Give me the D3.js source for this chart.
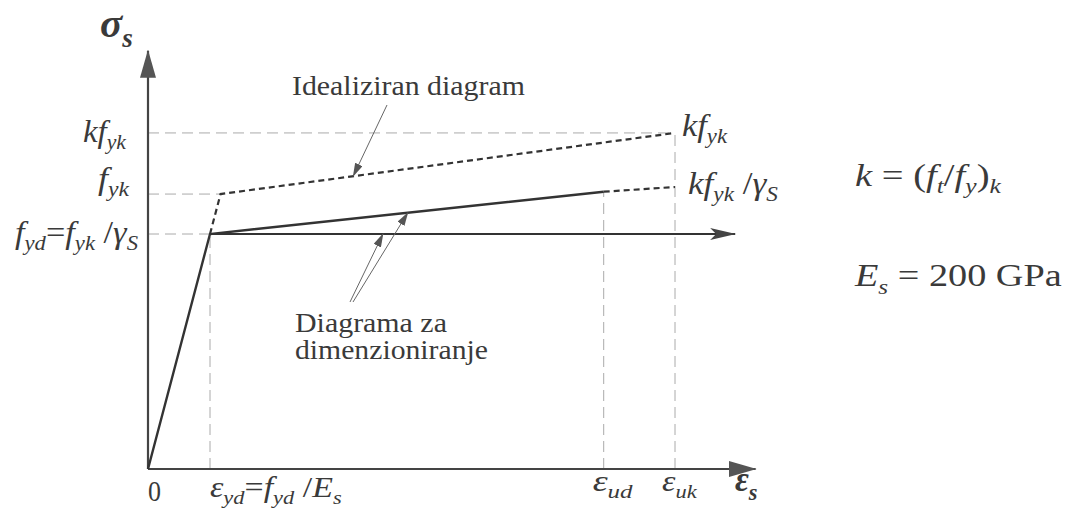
<!DOCTYPE html>
<html>
<head>
<meta charset="utf-8">
<script src="https://cdn.jsdelivr.net/npm/d3@7"></script>
</head>
<body style="margin:0">
<svg id="chart" width="1068" height="510"></svg>
<script>
// strain in units of eps_yd, stress in units of f_yd
const strainNames = ["yd", "yIdeal", "ud", "uk"];
const strainValues = [1.0, 1.17, 7.35, 8.5];
const stressNames = ["fyd", "fyk", "kfyk", "fudDesign", "kfykGs"];
const stressValues = [1.0, 1.17, 1.43, 1.18, 1.2];

const eps = Object.fromEntries(strainNames.map((n, i) => [n, strainValues[i]]));
const sig = Object.fromEntries(stressNames.map((n, i) => [n, stressValues[i]]));

// design diagram (solid part + dashed continuation), idealized diagram (dashed)
const designSolid = [[0, 0], [eps.yd, sig.fyd], [eps.ud, sig.fudDesign]];
const designDashed = [[eps.ud, sig.fudDesign], [eps.uk, sig.kfykGs]];
const idealized = [[eps.yd, sig.fyd], [eps.yIdeal, sig.fyk], [eps.uk, sig.kfyk]];
const plateau = [[eps.yd, sig.fyd], [9.47, sig.fyd]];

const svg = d3.select("#chart");
const x = d3.scaleLinear().domain([0, 9.8]).range([148, 755.6]);
const y = d3.scaleLinear().domain([0, 1]).range([469, 234]);
const yTop = 1.78;
const ink = "#3a3a3a";
const FONT = "'Liberation Serif'";

const line = d3.line().x(d => x(d[0])).y(d => y(d[1]));

const defs = svg.append("defs");
defs.append("marker").attr("id", "axisHead")
  .attr("viewBox", "0 0 28 16").attr("refX", 27).attr("refY", 8)
  .attr("markerWidth", 28).attr("markerHeight", 16).attr("markerUnits", "userSpaceOnUse")
  .attr("orient", "auto")
  .append("path").attr("d", "M0,0 L28,8 L0,16 Z").attr("fill", "#555");
defs.append("marker").attr("id", "plateauHead")
  .attr("viewBox", "0 0 26 12").attr("refX", 25).attr("refY", 6)
  .attr("markerWidth", 26).attr("markerHeight", 12).attr("markerUnits", "userSpaceOnUse")
  .attr("orient", "auto")
  .append("path").attr("d", "M0,0 L26,6 L0,12 L6,6 Z").attr("fill", "#444");
defs.append("marker").attr("id", "noteHead")
  .attr("viewBox", "0 0 14 8").attr("refX", 13).attr("refY", 4)
  .attr("markerWidth", 14).attr("markerHeight", 8).attr("markerUnits", "userSpaceOnUse")
  .attr("orient", "auto")
  .append("path").attr("d", "M0,0 L14,4 L0,8 Z").attr("fill", "#555");

// light dashed guide lines
const guides = svg.append("g").attr("stroke", "#aaa").attr("stroke-width", 1)
  .attr("stroke-dasharray", "11,6").attr("fill", "none");
guides.append("path").attr("d", line([[0, sig.kfyk], [eps.uk, sig.kfyk]]));
guides.append("path").attr("d", line([[0, sig.fyk], [eps.yIdeal, sig.fyk]]));
guides.append("path").attr("d", line([[0, sig.fyd], [eps.yd, sig.fyd]]));
guides.append("path").attr("d", line([[eps.yd, 0], [eps.yd, sig.fyd]]));
guides.append("path").attr("d", line([[eps.ud, 0], [eps.ud, sig.fudDesign]]));
guides.append("path").attr("d", line([[eps.uk, 0], [eps.uk, sig.kfyk]]));

// axes
svg.append("line")
  .attr("x1", x(0)).attr("y1", y(0)).attr("x2", x(0)).attr("y2", y(yTop))
  .attr("stroke", "#444").attr("stroke-width", 2.2).attr("marker-end", "url(#axisHead)");
svg.append("line")
  .attr("x1", x(0)).attr("y1", y(0)).attr("x2", x(9.8)).attr("y2", y(0))
  .attr("stroke", "#444").attr("stroke-width", 2.2).attr("marker-end", "url(#axisHead)");

// idealized diagram
svg.append("path").attr("d", line(idealized))
  .attr("fill", "none").attr("stroke", "#333").attr("stroke-width", 2.2)
  .attr("stroke-dasharray", "6,4");

// design diagram
svg.append("path").attr("d", line(designSolid))
  .attr("fill", "none").attr("stroke", "#333").attr("stroke-width", 2.4)
  .attr("stroke-linejoin", "miter");
svg.append("path").attr("d", line(designDashed))
  .attr("fill", "none").attr("stroke", "#333").attr("stroke-width", 2.2)
  .attr("stroke-dasharray", "6,4");
svg.append("path").attr("d", line(plateau))
  .attr("fill", "none").attr("stroke", "#333").attr("stroke-width", 2.2)
  .attr("marker-end", "url(#plateauHead)");

// point on a polyline at strain e
function onLine(pts, e) {
  for (let i = 1; i < pts.length; i++) {
    if (e <= pts[i][0]) {
      const t = (e - pts[i - 1][0]) / (pts[i][0] - pts[i - 1][0]);
      return [x(e), y(pts[i - 1][1] + t * (pts[i][1] - pts[i - 1][1]))];
    }
  }
}

// annotation arrows
const notes = svg.append("g").attr("stroke", "#666").attr("stroke-width", 1)
  .attr("marker-end", "url(#noteHead)");
function note(from, to) {
  notes.append("line").attr("x1", from[0]).attr("y1", from[1]).attr("x2", to[0]).attr("y2", to[1]);
}
note([387, 105], onLine(idealized, 3.31));
note([350, 302], onLine(plateau, 3.79));
note([353, 302], onLine(designSolid, 4.19));

// stretch a text horizontally (around its left edge) to the width seen in the sketch
function fit(t, left, width) {
  const w = t.node().getBBox().width;
  if (w > 0) t.attr("transform", `translate(${left},0) scale(${width / w},1) translate(${-left},0)`);
  return t;
}

// math text: parts = [text, kind] with kind "r", "i", "sub"
function mathText(px, py, parts, size, width) {
  const t = svg.append("text").attr("x", px).attr("y", py).attr("fill", ink)
    .attr("font-family", FONT).attr("font-size", size);
  let shift = 0;
  parts.forEach(([s, kind]) => {
    const ts = t.append("tspan").text(s);
    const target = kind === "sub" ? size * 0.24 : 0;
    if (target !== shift) { ts.attr("dy", target - shift); shift = target; }
    if (kind !== "r") ts.attr("font-style", "italic");
    if (kind === "sub") ts.attr("font-size", size * 0.66);
  });
  return width ? fit(t, px, width) : t;
}
function plainText(px, py, s, size, width) {
  const t = svg.append("text").attr("x", px).attr("y", py).attr("fill", ink)
    .attr("font-family", FONT).attr("font-size", size).text(s);
  return width ? fit(t, px, width) : t;
}

// axis titles
mathText(100, 37, [["σ", "i"], ["s", "sub"]], 40, 31).attr("font-weight", "bold");
mathText(735, 491, [["ε", "i"], ["s", "sub"]], 36, 22).attr("font-weight", "bold");

// stress tick labels (left)
const yLabels = [
  { v: sig.kfyk, dy: 9, left: 83, width: 44, parts: [["kf", "i"], ["yk", "sub"]] },
  { v: sig.fyk, dy: -5, left: 98, width: 32, parts: [["f", "i"], ["yk", "sub"]] },
  { v: sig.fyd, dy: 9, left: 15, width: 123, parts: [["f", "i"], ["yd", "sub"], ["=", "r"], ["f", "i"], ["yk", "sub"], [" /", "r"], ["γ", "i"], ["S", "sub"]] }
];
yLabels.forEach(d => mathText(d.left, y(d.v) + d.dy, d.parts, 31, d.width));

// strain tick labels
const xLabels = [
  { v: 0, dx: 0, dy: 32, width: 13, parts: [["0", "r"]] },
  { v: eps.yd, dx: 0, dy: 28, width: 132, parts: [["ε", "i"], ["yd", "sub"], ["=", "r"], ["f", "i"], ["yd", "sub"], [" /", "r"], ["E", "i"], ["s", "sub"]] },
  { v: eps.ud, dx: -11, dy: 22, width: 40, parts: [["ε", "i"], ["ud", "sub"]] },
  { v: eps.uk, dx: -13, dy: 22, width: 36, parts: [["ε", "i"], ["uk", "sub"]] }
];
xLabels.forEach(d => mathText(x(d.v) + d.dx, y(0) + d.dy, d.parts, 30, d.width));

// end labels (right of the diagrams)
mathText(682, 136, [["kf", "i"], ["yk", "sub"]], 31, 46);
mathText(688, 194, [["kf", "i"], ["yk", "sub"], [" /", "r"], ["γ", "i"], ["S", "sub"]], 31, 90);

// notes text
plainText(292, 95, "Idealiziran diagram", 27, 233);
plainText(295, 332, "Diagrama za", 27, 152);
plainText(295, 359, "dimenzioniranje", 27, 193);

// formulas on the right
mathText(855, 186, [["k", "i"], [" = (", "r"], ["f", "i"], ["t", "sub"], ["/", "r"], ["f", "i"], ["y", "sub"], [")", "r"], ["k", "sub"]], 31, 147);
mathText(855, 286, [["E", "i"], ["s", "sub"], [" = 200 GPa", "r"]], 32, 208);
</script>
</body>
</html>
